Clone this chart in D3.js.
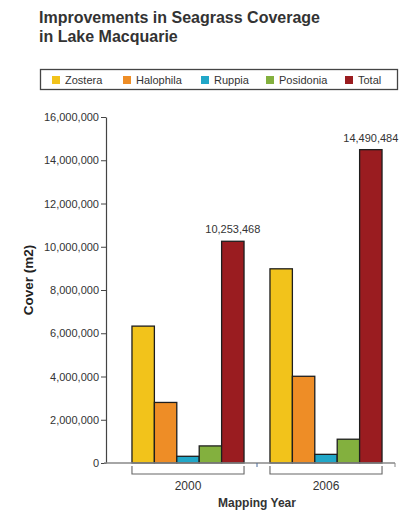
<!DOCTYPE html>
<html><head><meta charset="utf-8">
<script src="https://cdn.jsdelivr.net/npm/d3@7"></script>
<style>body{margin:0;background:#fff;}svg{display:block;font-family:"Liberation Sans",Arial,sans-serif;}</style>
</head><body>
<svg id="c" width="402" height="511"></svg>
<script>
const years = ["2000", "2006"];
const species = ["Zostera", "Halophila", "Ruppia", "Posidonia", "Total"];
const colors = ["#F2C31B", "#EE8D26", "#21A7C8", "#83B03E", "#9A1C20"];
const values2000 = [6330000, 2800000, 310000, 790000, 10253468];
const values2006 = [8980000, 4010000, 400000, 1100000, 14490484];
const yTicks = [0, 2000000, 4000000, 6000000, 8000000, 10000000, 12000000, 14000000, 16000000];
const seriesByYear = [values2000, values2006];

const svg = d3.select("#c");
const x0 = d3.scaleBand().domain(years).range([119, 395]).paddingInner(0.188).paddingOuter(0.094);
const x1 = d3.scaleBand().domain(species).range([0, x0.bandwidth()]);
const y = d3.scaleLinear().domain([0, 16000000]).range([463, 117]);
const fmt = d3.format(",");

// title
const title = svg.append("text").attr("x", 39).attr("font-weight", "bold").attr("font-size", 16).attr("fill", "#333");
title.append("tspan").attr("x", 39).attr("y", 23).text("Improvements in Seagrass Coverage");
title.append("tspan").attr("x", 39).attr("y", 42).text("in Lake Macquarie");

// legend
svg.append("rect").attr("x", 40.5).attr("y", 69.5).attr("width", 357).attr("height", 20)
  .attr("fill", "none").attr("stroke", "#444").attr("stroke-width", 1.3);
const legX = [52, 123, 201, 266, 345];
species.forEach((s, i) => {
  svg.append("rect").attr("x", legX[i]).attr("y", 76).attr("width", 8).attr("height", 8).attr("fill", colors[i]);
  svg.append("text").attr("x", legX[i] + 13).attr("y", 83.5).attr("font-size", 11).attr("fill", "#333").text(s);
});

// y axis
const yAxis = d3.axisLeft(y).tickValues(yTicks).tickFormat(fmt).tickSize(5).tickSizeOuter(0);
const ga = svg.append("g").attr("transform", "translate(106,0)").call(yAxis);
ga.select(".domain").attr("stroke", "#444").attr("stroke-width", 1.2);
ga.selectAll(".tick line").attr("stroke", "#444");
ga.selectAll(".tick text").attr("font-size", 11).attr("fill", "#333").attr("font-family", "Liberation Sans, Arial, sans-serif").attr("x", -7);

// y title
svg.append("text").attr("transform", "translate(33,280) rotate(-90)").attr("text-anchor", "middle")
  .attr("font-weight", "bold").attr("font-size", 13.5).attr("fill", "#222").text("Cover (m2)");

// bars
years.forEach((yr, gi) => {
  const g = svg.append("g").attr("transform", `translate(${x0(yr)},0)`);
  g.selectAll("rect").data(seriesByYear[gi]).join("rect")
    .attr("x", (d, i) => x1(species[i]))
    .attr("y", d => y(d))
    .attr("width", x1.bandwidth())
    .attr("height", d => y(0) - y(d))
    .attr("fill", (d, i) => colors[i])
    .attr("stroke", "#1e1e1e").attr("stroke-width", 1.3);
  const tot = seriesByYear[gi][4];
  g.append("text").attr("x", x1("Total") + x1.bandwidth() / 2).attr("y", y(tot) - 8)
    .attr("text-anchor", "middle").attr("font-size", 11).attr("fill", "#333").text(fmt(tot));
});

// x axis line
svg.append("line").attr("x1", 104).attr("x2", 395).attr("y1", 463).attr("y2", 463).attr("stroke", "#888").attr("stroke-width", 1.3);
svg.append("line").attr("x1", 395).attr("x2", 395).attr("y1", 463).attr("y2", 467).attr("stroke", "#888");
const midX = (x0("2000") + x0.bandwidth() + x0("2006")) / 2;
svg.append("line").attr("x1", midX).attr("x2", midX).attr("y1", 463).attr("y2", 467).attr("stroke", "#4a6a9a");

// brackets and labels
years.forEach(yr => {
  const a = x0(yr), b = x0(yr) + x0.bandwidth();
  svg.append("path").attr("d", `M${a},466V474H${b}V466`).attr("fill", "none").attr("stroke", "#666").attr("stroke-width", 1.1);
  svg.append("text").attr("x", (a + b) / 2).attr("y", 490).attr("text-anchor", "middle").attr("font-size", 12).attr("fill", "#333").text(yr);
});
svg.append("text").attr("x", 257).attr("y", 507).attr("text-anchor", "middle").attr("font-weight", "bold").attr("font-size", 12).attr("fill", "#333").text("Mapping Year");
</script>
</body></html>
